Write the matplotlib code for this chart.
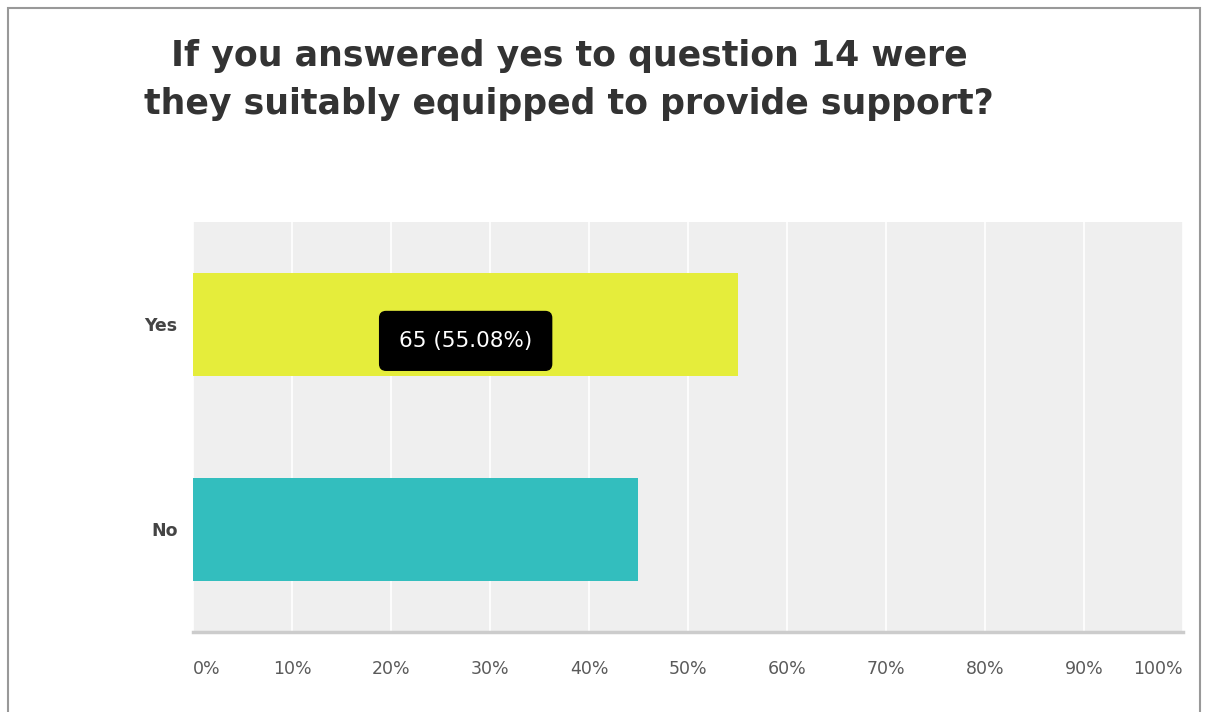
import matplotlib.pyplot as plt
from matplotlib.patches import Rectangle

# survey answers
categories = ['Yes', 'No']
counts = [65, 53]
percents = [55.08, 44.92]
bar_colors = ['#e5ed3b', '#33bebe']
tick_vals = [0, 10, 20, 30, 40, 50, 60, 70, 80, 90, 100]
tick_labels = ['%d%%' % t for t in tick_vals]

title = 'If you answered yes to question 14 were\nthey suitably equipped to provide support?'

plt.rcParams['font.family'] = ['DejaVu Sans']

fig = plt.figure(figsize=(12.1, 7.12), dpi=100)
ax = fig.add_axes([193 / 1210, 1 - 632 / 712, 990 / 1210, 410 / 712])
ax.set_facecolor('#efefef')

ypos = list(range(len(categories)))
ax.barh(ypos, percents, height=0.5, color=bar_colors, zorder=3)

ax.set_xlim(0, 100)
ax.set_ylim(len(categories) - 0.5, -0.5)

ax.set_xticks(tick_vals)
ax.set_xticklabels(tick_labels, fontsize=12.5, color='#5a5a5a')
labels = ax.get_xticklabels()
labels[0].set_ha('left')
labels[-1].set_ha('right')
ax.set_yticks(ypos)
ax.set_yticklabels(categories, fontsize=12.5, fontweight='bold', color='#444444')
ax.tick_params(axis='x', length=0, pad=20)
ax.tick_params(axis='y', length=0, pad=11)

ax.grid(axis='x', color='white', linewidth=1.2, zorder=1)
for side in ['top', 'right', 'left']:
    ax.spines[side].set_visible(False)
ax.spines['bottom'].set_color('#cccccc')
ax.spines['bottom'].set_linewidth(2.5)

# hover tooltip on the Yes bar
ax.text(percents[0] / 2, 0.08, '%d (%.2f%%)' % (counts[0], percents[0]),
        color='white', fontsize=15.5, ha='center', va='center', zorder=5,
        bbox=dict(boxstyle='round,pad=0.9,rounding_size=0.3', fc='black', ec='black'))

fig.text(569 / 1210, 1 - 80 / 712, title, ha='center', va='center',
         fontsize=25, fontweight='bold', color='#333333', linespacing=1.55)

# frame round the screenshot
fig.patches.append(Rectangle((8 / 1210, -0.05), 1192 / 1210, 1 - 8 / 712 + 0.05,
                             transform=fig.transFigure, fill=False,
                             edgecolor='#999999', linewidth=1.5))

fig.savefig('out.png', dpi=100)
